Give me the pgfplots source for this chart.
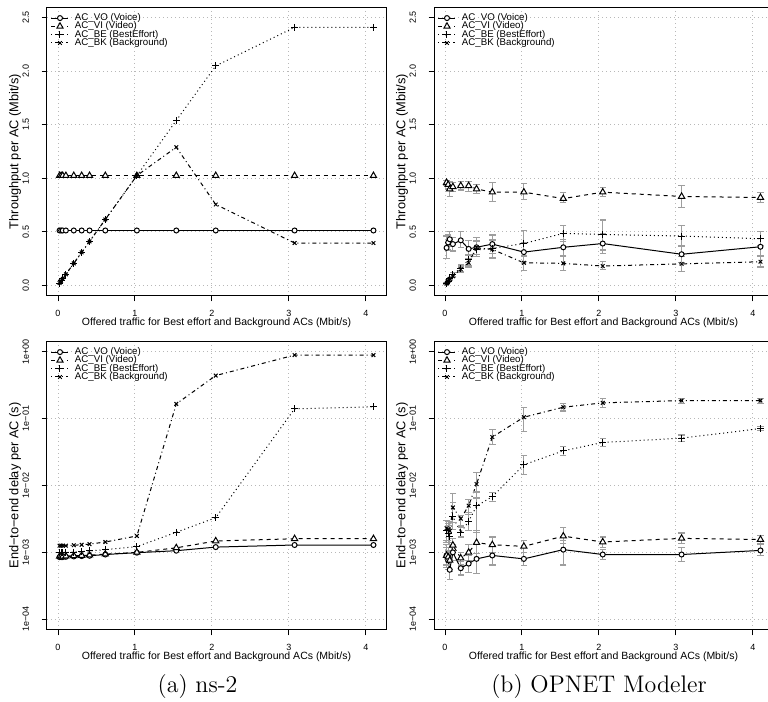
\documentclass[border=0pt]{standalone}
\usepackage{fontspec}
\usepackage{pgfplots}
\usepackage{pgfplotstable}
\pgfplotsset{compat=1.18}
\newfontfamily\rsans{Liberation Sans}

% ns-2 throughput
\pgfplotstableread{
x vo vi be bk
0.0205 0.512 1.024 0.0205 0.0205
0.041 0.512 1.024 0.041 0.041
0.0615 0.512 1.024 0.0615 0.0615
0.1025 0.512 1.024 0.1025 0.1025
0.205 0.512 1.024 0.205 0.205
0.3075 0.512 1.024 0.3075 0.3075
0.41 0.512 1.024 0.41 0.41
0.615 0.512 1.024 0.615 0.615
1.025 0.512 1.024 1.025 1.025
1.5375 0.512 1.024 1.54 1.29
2.05 0.512 1.024 2.05 0.755
3.075 0.512 1.024 2.41 0.395
4.1 0.512 1.024 2.41 0.395
}\tabAT

% ns-2 delay
\pgfplotstableread{
x vo vi be bk
0.0205 8.5e-4 8.7e-4 1.0e-3 1.26e-3
0.041 8.5e-4 8.7e-4 1.0e-3 1.26e-3
0.0615 8.5e-4 8.7e-4 1.0e-3 1.26e-3
0.1025 8.6e-4 8.8e-4 1.0e-3 1.26e-3
0.205 8.7e-4 8.9e-4 1.01e-3 1.28e-3
0.3075 8.8e-4 9.0e-4 1.03e-3 1.3e-3
0.41 8.9e-4 9.1e-4 1.05e-3 1.33e-3
0.615 9.3e-4 9.4e-4 1.1e-3 1.43e-3
1.025 9.9e-4 1.0e-3 1.22e-3 1.76e-3
1.5375 1.06e-3 1.17e-3 2.0e-3 0.166
2.05 1.2e-3 1.48e-3 3.3e-3 0.44
3.075 1.29e-3 1.6e-3 0.14 0.89
4.1 1.29e-3 1.6e-3 0.15 0.89
}\tabAD

% OPNET throughput (value, low, high)
\pgfplotstableread{
x vo volo vohi vi vilo vihi be belo behi bk bklo bkhi
0.0205 0.35 0.25 0.46 0.96 0.93 0.98 0.02 0.015 0.025 0.015 0.01 0.02
0.041 0.40 0.33 0.47 0.94 0.90 0.97 0.04 0.03 0.05 0.04 0.03 0.05
0.0615 0.43 0.36 0.50 0.90 0.83 0.97 0.06 0.05 0.07 0.06 0.05 0.07
0.1025 0.385 0.32 0.45 0.92 0.88 0.96 0.10 0.08 0.12 0.085 0.07 0.10
0.205 0.42 0.35 0.50 0.93 0.89 0.97 0.16 0.13 0.19 0.15 0.12 0.17
0.3075 0.34 0.28 0.42 0.93 0.88 0.97 0.24 0.18 0.29 0.21 0.17 0.25
0.41 0.355 0.27 0.45 0.90 0.86 0.94 0.33 0.27 0.42 0.35 0.29 0.41
0.615 0.385 0.30 0.47 0.87 0.78 0.96 0.345 0.26 0.43 0.335 0.25 0.42
1.025 0.31 0.22 0.40 0.87 0.80 0.95 0.39 0.27 0.51 0.21 0.14 0.28
1.5375 0.355 0.28 0.43 0.81 0.77 0.87 0.485 0.41 0.56 0.205 0.14 0.27
2.05 0.39 0.30 0.48 0.87 0.83 0.91 0.475 0.33 0.61 0.18 0.15 0.22
3.075 0.29 0.21 0.37 0.83 0.73 0.93 0.46 0.36 0.56 0.20 0.13 0.27
4.1 0.36 0.28 0.44 0.82 0.77 0.87 0.435 0.37 0.50 0.22 0.17 0.27
}\tabBT

% OPNET delay (value, low, high)
\pgfplotstableread{
x vo volo vohi vi vilo vihi be belo behi bk bklo bkhi
0.0205 9.0e-4 6.5e-4 1.2e-3 9.0e-4 6.0e-4 1.3e-3 2.1e-3 1.4e-3 3.0e-3 2.3e-3 1.5e-3 3.0e-3
0.041 7.6e-4 5.5e-4 1.05e-3 8.5e-4 5.5e-4 1.2e-3 1.9e-3 1.3e-3 2.7e-3 2.2e-3 1.5e-3 2.9e-3
0.0615 5.5e-4 3.9e-4 8.0e-4 7.6e-4 5.2e-4 1.05e-3 1.75e-3 1.2e-3 2.5e-3 2.1e-3 1.4e-3 2.9e-3
0.1025 1.0e-3 7.5e-4 1.3e-3 1.28e-3 1.0e-3 1.6e-3 3.4e-3 2.2e-3 5.5e-3 4.7e-3 2.8e-3 7.7e-3
0.205 5.8e-4 4.6e-4 7.3e-4 8.2e-4 6.5e-4 1.0e-3 2.0e-3 1.7e-3 2.4e-3 3.2e-3 2.5e-3 3.6e-3
0.3075 6.8e-4 5.0e-4 9.0e-4 1.0e-3 7.5e-4 1.3e-3 2.9e-3 2.1e-3 4.0e-3 5.0e-3 3.7e-3 6.2e-3
0.41 8.0e-4 4.8e-4 1.3e-3 1.4e-3 9.5e-4 2.1e-3 4.95e-3 2.0e-3 8.0e-3 0.0105 6.5e-3 0.0155
0.615 9.0e-4 6.5e-4 1.25e-3 1.3e-3 1.0e-3 1.7e-3 6.8e-3 5.8e-3 7.8e-3 0.053 0.041 0.068
1.025 8.0e-4 6.3e-4 1.0e-3 1.23e-3 1.0e-3 1.5e-3 0.0204 0.0145 0.028 0.105 0.065 0.145
1.5375 1.1e-3 6.5e-4 1.5e-3 1.75e-3 1.35e-3 2.35e-3 0.033 0.028 0.038 0.148 0.13 0.17
2.05 9.3e-4 7.8e-4 1.1e-3 1.43e-3 1.2e-3 1.7e-3 0.044 0.038 0.05 0.172 0.145 0.2
3.075 9.3e-4 7.3e-4 1.2e-3 1.62e-3 1.35e-3 1.95e-3 0.051 0.045 0.057 0.186 0.17 0.2
4.1 1.07e-3 9.0e-4 1.3e-3 1.56e-3 1.35e-3 1.8e-3 0.071 0.066 0.076 0.186 0.17 0.2
}\tabBD

\pgfplotsset{
  rpanel/.style={
    scale only axis, width=169.5pt, height=144.5pt, anchor=south west,
    xmin=-0.143, xmax=4.263,
    axis line style={line width=0.5pt},
    every tick/.style={black, line width=0.5pt},
    major tick length=2.7pt, tick align=outside,
    xtick pos=bottom, ytick pos=left,
    xtick={0,1,2,3,4}, xticklabels={0,1,2,3,4},
    /pgf/number format/assume math mode=true,
    grid=major,
    major grid style={line width=0.5pt, black!28, dash pattern=on 0.5pt off 1.5pt},
    font=\rsans\fontsize{5.25}{6}\selectfont,
    xticklabel style={font=\rsans\fontsize{4.5}{5}\selectfont, anchor=north, inner sep=0pt, yshift=-4.4pt},
    yticklabel style={font=\rsans\fontsize{4.5}{5}\selectfont, rotate=90, anchor=south, inner sep=0pt, yshift=6.1pt},
    xlabel={Offered traffic for Best effort and Background ACs (Mbit/s)},
    x label style={at={(axis description cs:0.5,-0.094)}, anchor=center, inner sep=0pt},
    y label style={at={(axis description cs:-0.0944,0.5)}, anchor=center, inner sep=0pt,
                   font=\rsans\fontsize{6.4}{7}\selectfont},
    legend cell align=left,
    legend style={font=\rsans\fontsize{4.85}{5.5}\selectfont, draw=none, fill=none,
      at={(axis description cs:0.0118,0.976)}, anchor=north west,
      inner sep=0pt, outer sep=0pt, row sep=0pt, column sep=3pt,
      nodes={inner sep=0pt, text height=3.3pt, text depth=0.85pt}},
    legend image code/.code={\draw[mark repeat=2,mark phase=2,##1] plot coordinates {(0pt,0pt) (4.25pt,0pt) (8.5pt,0pt)};},
  },
  linpanel/.style={ymin=-0.1, ymax=2.6, ytick={0,0.5,1,1.5,2,2.5},
    yticklabels={0.0,0.5,1.0,1.5,2.0,2.5}, ylabel={Throughput per AC (Mbit/s)}},
  logpanel/.style={ymin=6.918e-5, ymax=1.4454, ytick={1e-4,1e-3,1e-2,1e-1,1},
    yticklabels={1e−04,1e−03,1e−02,1e−01,1e+00}, yminorticks=false,
    ylabel={End−to−end delay per AC (s)}},
  vo/.style={black, line width=0.5pt, solid, mark=*, mark size=1.25pt, mark options={solid, fill=white}},
  vi/.style={black, line width=0.5pt, dash pattern=on 2pt off 2pt, mark=triangle*, mark size=1.8pt, mark options={solid, fill=white}},
  be/.style={black, line width=0.5pt, dash pattern=on 0.5pt off 1.5pt, mark=+, mark size=1.75pt, mark options={solid}},
  bk/.style={black, line width=0.5pt, dash pattern=on 0.5pt off 1.5pt on 2pt off 1.5pt, mark=x, mark size=1.3pt, mark options={solid}},
  ebar/.style={forget plot, draw=none, mark=none,
    error bars/.cd, y dir=both, y explicit, error mark=none,
    error bar style={draw=black!38, line width=0.6pt, solid}},
  ecap/.style={forget plot, only marks, mark=-, mark size=1.6pt,
    mark options={draw=black!38, line width=0.6pt, solid}},
}
\newcommand{\ebars}[2]{%
  \addplot[ebar] table[x=x,y=#2,y error plus expr=\thisrow{#2hi}-\thisrow{#2},y error minus expr=\thisrow{#2}-\thisrow{#2lo}]{#1};
  \addplot[ecap] table[x=x,y=#2hi]{#1};
  \addplot[ecap] table[x=x,y=#2lo]{#1};
}

\begin{document}
\begin{tikzpicture}
\useasboundingbox (0pt,0pt) rectangle (384pt,351pt);

% (a) top
\begin{axis}[rpanel, linpanel, at={(23.5pt,203pt)}]
\addplot[vo] table[x=x,y=vo]{\tabAT};
\addplot[vi] table[x=x,y=vi]{\tabAT};
\addplot[be] table[x=x,y=be]{\tabAT};
\addplot[bk] table[x=x,y=bk]{\tabAT};
\legend{AC\_VO (Voice),AC\_VI (Video),AC\_BE (BestEffort),AC\_BK (Background)}
\end{axis}

% (b) top
\begin{axis}[rpanel, linpanel, at={(217pt,203pt)}]
\ebars{\tabBT}{vo}
\ebars{\tabBT}{vi}
\ebars{\tabBT}{be}
\ebars{\tabBT}{bk}
\addplot[vo] table[x=x,y=vo]{\tabBT};
\addplot[vi] table[x=x,y=vi]{\tabBT};
\addplot[be] table[x=x,y=be]{\tabBT};
\addplot[bk] table[x=x,y=bk]{\tabBT};
\legend{AC\_VO (Voice),AC\_VI (Video),AC\_BE (BestEffort),AC\_BK (Background)}
\end{axis}

% (a) bottom
\begin{axis}[ymode=log, rpanel, logpanel, at={(23.5pt,36pt)}]
\addplot[vo] table[x=x,y=vo]{\tabAD};
\addplot[vi] table[x=x,y=vi]{\tabAD};
\addplot[be] table[x=x,y=be]{\tabAD};
\addplot[bk] table[x=x,y=bk]{\tabAD};
\legend{AC\_VO (Voice),AC\_VI (Video),AC\_BE (BestEffort),AC\_BK (Background)}
\end{axis}

% (b) bottom
\begin{axis}[ymode=log, rpanel, logpanel, at={(217pt,36pt)}]
\ebars{\tabBD}{vo}
\ebars{\tabBD}{vi}
\ebars{\tabBD}{be}
\ebars{\tabBD}{bk}
\addplot[vo] table[x=x,y=vo]{\tabBD};
\addplot[vi] table[x=x,y=vi]{\tabBD};
\addplot[be] table[x=x,y=be]{\tabBD};
\addplot[bk] table[x=x,y=bk]{\tabBD};
\legend{AC\_VO (Voice),AC\_VI (Video),AC\_BE (BestEffort),AC\_BK (Background)}
\end{axis}

\node[font=\fontsize{12}{14}\selectfont] at (98.75pt,7.5pt) {(a) ns-2};
\node[font=\fontsize{12}{14}\selectfont] at (299.5pt,7.5pt) {(b) OPNET Modeler};
\end{tikzpicture}
\end{document}
